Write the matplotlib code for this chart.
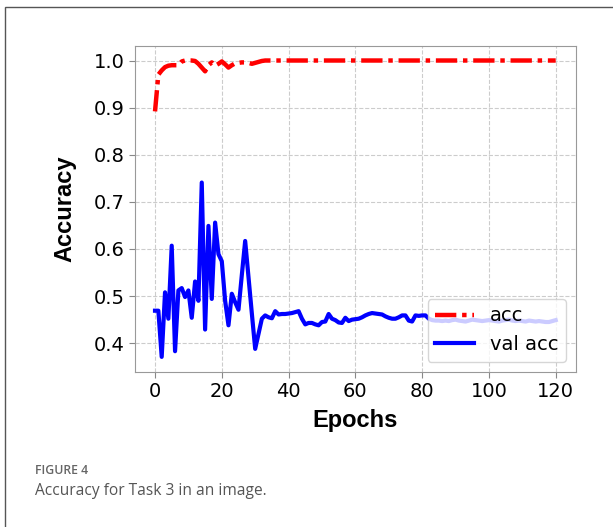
import matplotlib.pyplot as plt
from matplotlib.patches import Rectangle

# ---- data ----
epochs = list(range(121))

acc = [
    0.892, 0.970, 0.979, 0.986, 0.989, 0.990, 0.990, 0.990, 0.998, 1.000,
    1.000, 1.000, 0.999, 0.993, 0.985, 0.977, 0.990, 0.996, 0.989, 0.993,
    0.998, 0.992, 0.985, 0.990, 0.994, 0.995, 0.996, 0.996, 0.995, 0.993,
    0.995, 0.997, 0.999, 1.000, 1.000, 1.000, 1.000, 1.000, 1.000, 1.000,
    1.000, 1.000, 1.000, 1.000, 1.000, 1.000, 1.000, 1.000, 1.000, 1.000,
    1.000, 1.000, 1.000, 1.000, 1.000, 1.000, 1.000, 1.000, 1.000, 1.000,
    1.000, 1.000, 1.000, 1.000, 1.000, 1.000, 1.000, 1.000, 1.000, 1.000,
    1.000, 1.000, 1.000, 1.000, 1.000, 1.000, 1.000, 1.000, 1.000, 1.000,
    1.000, 1.000, 1.000, 1.000, 1.000, 1.000, 1.000, 1.000, 1.000, 1.000,
    1.000, 1.000, 1.000, 1.000, 1.000, 1.000, 1.000, 1.000, 1.000, 1.000,
    1.000, 1.000, 1.000, 1.000, 1.000, 1.000, 1.000, 1.000, 1.000, 1.000,
    1.000, 1.000, 1.000, 1.000, 1.000, 1.000, 1.000, 1.000, 1.000, 1.000,
    1.000,
]

val_acc = [
    0.469, 0.469, 0.371, 0.508, 0.452, 0.607, 0.383, 0.512, 0.517, 0.498,
    0.512, 0.454, 0.531, 0.490, 0.741, 0.429, 0.649, 0.494, 0.656, 0.589,
    0.574, 0.490, 0.438, 0.505, 0.487, 0.471, 0.545, 0.617, 0.540, 0.463,
    0.388, 0.420, 0.452, 0.459, 0.455, 0.453, 0.468, 0.461, 0.462, 0.462,
    0.463, 0.464, 0.466, 0.468, 0.452, 0.440, 0.443, 0.443, 0.440, 0.438,
    0.445, 0.446, 0.462, 0.452, 0.449, 0.444, 0.443, 0.454, 0.447, 0.450,
    0.451, 0.452, 0.455, 0.459, 0.462, 0.464, 0.463, 0.462, 0.461, 0.457,
    0.454, 0.452, 0.452, 0.455, 0.459, 0.459, 0.448, 0.446, 0.459, 0.458,
    0.459, 0.459, 0.452, 0.449, 0.448, 0.448, 0.447, 0.448, 0.447, 0.449,
    0.450, 0.448, 0.447, 0.446, 0.448, 0.450, 0.449, 0.448, 0.447, 0.448,
    0.449, 0.448, 0.447, 0.446, 0.448, 0.449, 0.450, 0.448, 0.447, 0.448,
    0.447, 0.446, 0.448, 0.447, 0.446, 0.447, 0.446, 0.445, 0.445, 0.447,
    0.449,
]

# ---- figure ----
fig = plt.figure(figsize=(6.13, 5.27), dpi=100)
fig.patches.append(Rectangle((5 / 613, -0.1), 1.2, 1.1 - 7 / 527, transform=fig.transFigure,
                             fill=False, edgecolor='#555555', linewidth=1.0))

ax = fig.add_axes([0.2202, 0.2947, 0.7190, 0.6186])

ax.plot(epochs, acc, color='red', linewidth=3.2, linestyle=(0, (4.8, 1.3, 1.0, 1.3)), label='acc')
ax.plot(epochs, val_acc, color='blue', linewidth=3, label='val acc')

ax.set_yticks([0.4, 0.5, 0.6, 0.7, 0.8, 0.9, 1.0])
ax.set_xticks([0, 20, 40, 60, 80, 100, 120])
ax.tick_params(labelsize=14, color='#888888', length=4)
ax.grid(True, linestyle='--', color='#cccccc', linewidth=0.8)
for s in ax.spines.values():
    s.set_color('#999999')

ax.set_xlabel('Epochs', fontsize=17, fontweight='bold', family='Liberation Sans', labelpad=6)
ax.set_ylabel('Accuracy', fontsize=17, fontweight='bold', family='Liberation Sans', labelpad=12)

ax.legend(loc='lower right', fontsize=14)

# caption
fig.text(35 / 613, 1 - 470 / 527, 'FIGURE 4', fontsize=8.8, color='#666666',
         family='Open Sans', fontweight='semibold', va='center')
fig.text(35 / 613, 1 - 491 / 527, 'Accuracy for Task 3 in an image.', fontsize=11.2,
         color='#555555', family='Open Sans', va='center')

fig.savefig('out.png', dpi=100, facecolor='white')
